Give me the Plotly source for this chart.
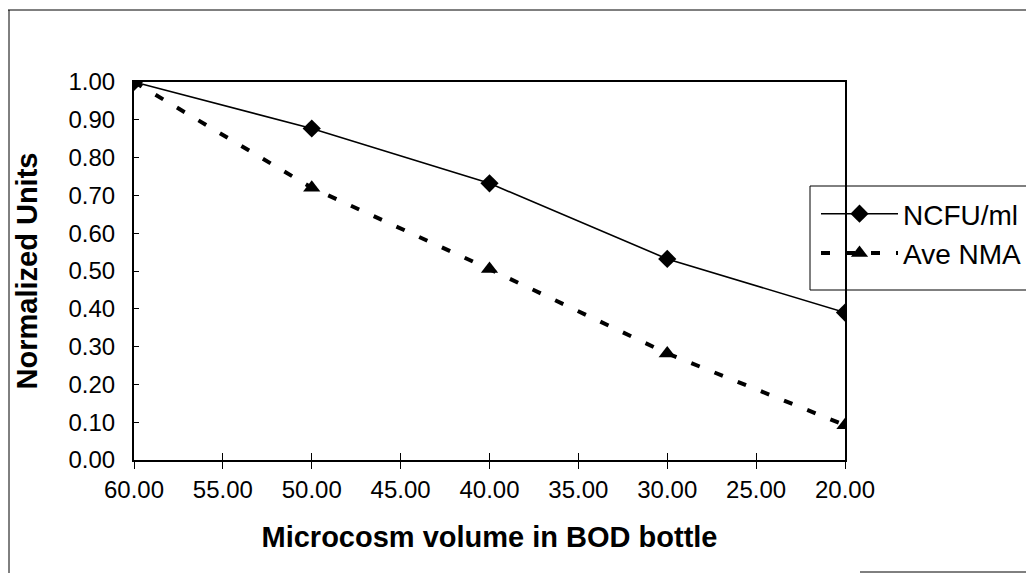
import plotly.graph_objects as go

volume = [60.0, 50.0, 40.0, 30.0, 20.0]
ncfu = [1.00, 0.877, 0.732, 0.532, 0.39]
ave_nma = [1.00, 0.72, 0.505, 0.282, 0.092]
x_ticks = [60, 55, 50, 45, 40, 35, 30, 25, 20]
y_ticks = [0.0, 0.1, 0.2, 0.3, 0.4, 0.5, 0.6, 0.7, 0.8, 0.9, 1.0]

FONT = "Liberation Sans, Arial, sans-serif"
W, H = 1034, 573
OFF = 8  # page body margin
L, R, T, B = 126, 197, 74, 121
ow = W - L - R
oh = H - T - B

def fx(p):
    return (p - OFF - L) / ow

def fy(p):
    return (H - B - (p - OFF)) / oh

fig = go.Figure()
fig.add_trace(go.Scatter(
    x=volume, y=ncfu, name="NCFU/ml", mode="lines+markers",
    line=dict(color="black", width=1.6),
    marker=dict(symbol="diamond", size=14, color="black"),
))
fig.add_trace(go.Scatter(
    x=volume, y=ave_nma, name="Ave NMA", mode="lines+markers",
    line=dict(color="black", width=4, dash="9px,16px"),
    marker=dict(symbol="triangle-up", size=15, color="black"),
))
fig.add_trace(go.Scatter(x=[60, 20], y=[0, 0], xaxis="x2", mode="markers",
                         marker=dict(opacity=0), showlegend=False, hoverinfo="skip"))

fig.update_layout(
    width=W, height=H,
    margin=dict(l=L, r=R, t=T, b=B, autoexpand=False),
    paper_bgcolor="white", plot_bgcolor="white",
    font=dict(family=FONT, color="black", size=24),
    xaxis=dict(
        range=[60, 20], tickvals=x_ticks,
        ticktext=[f"{v:.2f}" for v in x_ticks],
        ticks="outside", ticklen=7, tickwidth=1, tickcolor="black",
        showline=True, linecolor="black", linewidth=2, mirror=True,
        showgrid=False, zeroline=False,
        title=dict(text="<b>Microcosm volume in BOD bottle</b>",
                   font=dict(size=29), standoff=25),
        tickfont=dict(size=24),
    ),
    xaxis2=dict(
        range=[60, 20], overlaying="x", tickvals=x_ticks, showticklabels=False,
        ticks="inside", ticklen=7, tickwidth=1, tickcolor="black",
        showgrid=False, zeroline=False, showline=False, side="bottom",
    ),
    yaxis=dict(
        range=[0, 1.0], tickvals=y_ticks,
        ticktext=[f"{v:.2f}" for v in y_ticks],
        ticks="inside", ticklen=5, tickwidth=1, tickcolor="black",
        showline=True, linecolor="black", linewidth=2, mirror=True,
        showgrid=False, zeroline=False, ticklabelstandoff=12,
        title=dict(text="<b>Normalized Units</b>", font=dict(size=29), standoff=22),
        tickfont=dict(size=24),
    ),
    legend=dict(
        x=fx(816), y=fy(189),
        xanchor="left", yanchor="top",
        bgcolor="rgba(0,0,0,0)", borderwidth=0,
        font=dict(size=28), itemwidth=77, tracegroupgap=5,
    ),
    showlegend=True,
)

shapes = [
    dict(type="line", xref="paper", yref="paper", x0=fx(8), x1=fx(1045), y0=fy(10), y1=fy(10)),
    dict(type="line", xref="paper", yref="paper", x0=fx(9), x1=fx(9), y0=fy(10), y1=fy(580)),
    dict(type="line", xref="paper", yref="paper", x0=fx(860), x1=fx(1045), y0=fy(572), y1=fy(572)),
    dict(type="rect", xref="paper", yref="paper",
         x0=fx(810), x1=fx(1045), y0=fy(290), y1=fy(186)),
]
for s in shapes:
    s["line"] = dict(color="black", width=1)
    s["layer"] = "above"
fig.update_layout(shapes=shapes)

fig.write_html("out.html")
